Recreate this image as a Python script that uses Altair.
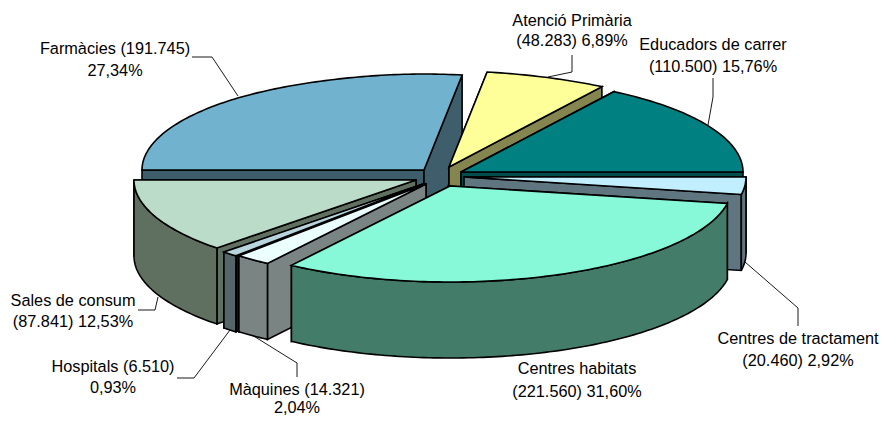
import math
import altair as alt

# ---- data ----
names = ["Farmàcies", "Atenció Primària", "Educadors de carrer", "Centres de tractament",
         "Centres habitats", "Màquines", "Hospitals", "Sales de consum"]
values = [191745, 48283, 110500, 20460, 221560, 14321, 6510, 87841]
line1 = ["Farmàcies (191.745)", "Atenció Primària", "Educadors de carrer", "Centres de tractament",
         "Centres habitats", "Màquines (14.321)", "Hospitals (6.510)", "Sales de consum"]
line2 = ["27,34%", "(48.283) 6,89%", "(110.500) 15,76%", "(20.460) 2,92%",
         "(221.560) 31,60%", "2,04%", "0,93%", "(87.841) 12,53%"]

# ---- styling and layout ----
top_colors = ["#71B2CE", "#FFFF99", "#008080", "#C2EFFF", "#87F9D8", "#ECFFFF", "#B8D4DC", "#BADCC8"]
side_colors = ["#3F5E6C", "#85854F", "#004D4D", "#5F757F", "#447C6A", "#7A8482", "#566568", "#5F6F60"]
face_colors = ["#3F5E6C", "#85854F", "#004D4D", "#5F757F", "#447C6A", "#7A8482", "#111111", "#5F6F60"]
tips = [(424, 170), (449, 167), (461, 172), (464, 177), (450, 186), (426, 184), (423, 184), (416, 180)]
draw_order = [0, 1, 2, 3, 7, 6, 5, 4]
RX, RY, DEPTH = 282, 96, 76
label_pos = [(115, 49, 71), (572, 21, 41), (713, 45, 67), (798, 339, 361),
             (577, 369, 392), (297, 390, 408), (113, 367, 388), (73, 301, 322)]
leaders = [
    [(192, 57), (212, 57), (238, 96)],
    [(548, 77), (572, 72), (572, 55)],
    [(708, 125), (713, 97), (713, 78)],
    [(745, 262), (798, 308), (798, 326)],
    [(252, 335), (297, 363), (297, 377)],
    [(230, 330), (194, 378), (177, 378)],
    [(158, 297), (155, 310), (138, 310)],
]

total = sum(values)


def pt(tip, deg, dy=0):
    a = math.radians(deg)
    narrow = 1 - 0.09 * max(0.0, math.cos(a)) ** 12  # the far rim is slightly narrower
    return [tip[0] + RX * math.sin(a) * narrow, tip[1] - RY * math.cos(a) + dy]


def arc(tip, a0, a1, dy=0):
    n = max(2, int(abs(a1 - a0)) + 1)
    return [pt(tip, a0 + (a1 - a0) * i / n, dy) for i in range(n + 1)]


def feature(ring, fill):
    ring = [list(p) for p in ring]
    ring.append(ring[0])
    return {"type": "Feature", "geometry": {"type": "Polygon", "coordinates": [ring]},
            "properties": {"fill": fill}}


starts, a = [], 270.0
for v in values:
    starts.append(a)
    a += v / total * 360

features = []
for i in draw_order:
    tip = tips[i]
    a0 = starts[i] % 360
    a1 = a0 + values[i] / total * 360
    t = list(tip)
    face_angles = (a1, a0) if 180 <= a0 < 270 else (a0, a1)
    for ang in face_angles:
        c = pt(tip, ang)
        features.append(feature([t, c, [c[0], c[1] + DEPTH], [t[0], t[1] + DEPTH]], face_colors[i]))
    # the outer wall shows on the front half of the ellipse only
    lo, hi = max(a0, 90), min(a1, 270)
    if hi > lo:
        features.append(feature(arc(tip, lo, hi) + arc(tip, hi, lo, DEPTH), side_colors[i]))
    features.append(feature([t] + arc(tip, a0, a1), top_colors[i]))

x_scale = alt.Scale(domain=[8, 880], range=[0, 872], nice=False, zero=False)
y_scale = alt.Scale(domain=[8, 415], range=[0, 407], nice=False, zero=False)

pie = alt.Chart(alt.Data(values=features)).mark_geoshape(
    stroke="black", strokeWidth=1.6, strokeJoin="miter"
).encode(
    fill=alt.Fill("properties.fill:N", scale=None),
).project(type="identity", scale=1, translate=[-8, -8])

leader_rows = [{"id": k, "n": j, "x": p[0], "y": p[1]} for k, l in enumerate(leaders) for j, p in enumerate(l)]
lines = alt.Chart(alt.Data(values=leader_rows)).mark_line(color="black", strokeWidth=0.9).encode(
    x=alt.X("x:Q", scale=x_scale, axis=None),
    y=alt.Y("y:Q", scale=y_scale, axis=None),
    detail="id:N",
    order="n:Q",
)

text_rows = []
for i, (cx, y1, y2) in enumerate(label_pos):
    text_rows.append({"x": cx, "y": y1, "t": line1[i]})
    text_rows.append({"x": cx, "y": y2, "t": line2[i]})
labels = alt.Chart(alt.Data(values=text_rows)).mark_text(
    font="Liberation Sans", fontSize=16.3, color="black", align="center", baseline="middle"
).encode(
    x=alt.X("x:Q", scale=x_scale, axis=None),
    y=alt.Y("y:Q", scale=y_scale, axis=None),
    text="t:N",
)

chart = alt.layer(pie, lines, labels).properties(
    width=872, height=407, padding=0, autosize=alt.AutoSizeParams(type="none"),
    background="white",
).configure_view(stroke="transparent", strokeWidth=0)

chart.save("out.html", embed_options={"renderer": "svg", "actions": False})
